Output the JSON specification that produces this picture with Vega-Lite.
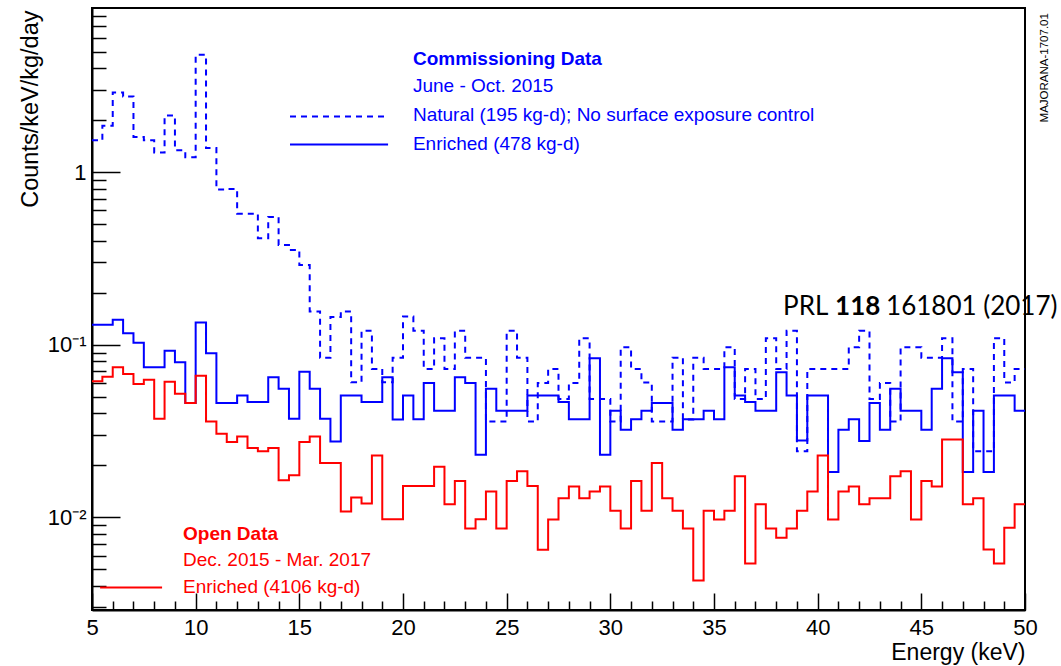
{
  "$schema": "https://vega.github.io/schema/vega-lite/v6.json",
  "width": 933,
  "height": 602,
  "autosize": {"type": "none"},
  "padding": {"left": 92, "top": 8, "right": 36, "bottom": 56},
  "background": "white",
  "config": {"view": {"stroke": "black", "strokeWidth": 2}, "font": "Liberation Sans"},
  "resolve": {"axis": {"x": "independent", "y": "independent"}},
  "datasets": {
    "h": [
      {"e":5,"n":1.53,"c":0.1305,"o":0.0614},
      {"e":5.5,"n":1.86,"c":0.1305,"o":0.0653},
      {"e":6,"n":2.9,"c":0.1396,"o":0.074},
      {"e":6.5,"n":2.75,"c":0.1164,"o":0.0677},
      {"e":7,"n":1.6,"c":0.1027,"o":0.0593},
      {"e":7.5,"n":1.53,"c":0.074,"o":0.0626},
      {"e":8,"n":1.3,"c":0.074,"o":0.0372},
      {"e":8.5,"n":2.13,"c":0.0923,"o":0.061},
      {"e":9,"n":1.34,"c":0.0791,"o":0.0519},
      {"e":9.5,"n":1.22,"c":0.0459,"o":0.0459},
      {"e":10,"n":4.79,"c":0.1347,"o":0.0662},
      {"e":10.5,"n":1.38,"c":0.0892,"o":0.0359},
      {"e":11,"n":0.794,"c":0.046,"o":0.0305},
      {"e":11.5,"n":0.8,"c":0.046,"o":0.0273},
      {"e":12,"n":0.575,"c":0.0507,"o":0.0294},
      {"e":12.5,"n":0.575,"c":0.0465,"o":0.0252},
      {"e":13,"n":0.414,"c":0.0465,"o":0.0241},
      {"e":13.5,"n":0.55,"c":0.0648,"o":0.0252},
      {"e":14,"n":0.379,"c":0.0555,"o":0.0164},
      {"e":14.5,"n":0.354,"c":0.0372,"o":0.0175},
      {"e":15,"n":0.29,"c":0.0698,"o":0.0273},
      {"e":15.5,"n":0.156,"c":0.0555,"o":0.0294},
      {"e":16,"n":0.0841,"c":0.0372,"o":0.0206},
      {"e":16.5,"n":0.145,"c":0.0275,"o":0.0206},
      {"e":17,"n":0.156,"c":0.0507,"o":0.0108},
      {"e":17.5,"n":0.0606,"c":0.0507,"o":0.013},
      {"e":18,"n":0.1205,"c":0.0465,"o":0.012},
      {"e":18.5,"n":0.0724,"c":0.0465,"o":0.0228},
      {"e":19,"n":0.0606,"c":0.0648,"o":0.00973},
      {"e":19.5,"n":0.0841,"c":0.0369,"o":0.00973},
      {"e":20,"n":0.146,"c":0.0507,"o":0.0152},
      {"e":20.5,"n":0.1205,"c":0.037,"o":0.0152},
      {"e":21,"n":0.0724,"c":0.0601,"o":0.0152},
      {"e":21.5,"n":0.109,"c":0.0415,"o":0.0196},
      {"e":22,"n":0.0724,"c":0.0415,"o":0.0119},
      {"e":22.5,"n":0.1205,"c":0.0648,"o":0.0162},
      {"e":23,"n":0.084,"c":0.0601,"o":0.0086},
      {"e":23.5,"n":0.084,"c":0.023,"o":0.00973},
      {"e":24,"n":0.0359,"c":0.0555,"o":0.0141},
      {"e":24.5,"n":0.0359,"c":0.0415,"o":0.0086},
      {"e":25,"n":0.1205,"c":0.0415,"o":0.0162},
      {"e":25.5,"n":0.084,"c":0.0415,"o":0.0185},
      {"e":26,"n":0.0359,"c":0.0507,"o":0.0152},
      {"e":26.5,"n":0.0601,"c":0.0507,"o":0.00648},
      {"e":27,"n":0.0724,"c":0.0507,"o":0.0097},
      {"e":27.5,"n":0.0485,"c":0.0465,"o":0.0129},
      {"e":28,"n":0.06,"c":0.037,"o":0.0151},
      {"e":28.5,"n":0.109,"c":0.037,"o":0.0129},
      {"e":29,"n":0.0485,"c":0.0834,"o":0.0141},
      {"e":29.5,"n":0.0485,"c":0.023,"o":0.0151},
      {"e":30,"n":0.0359,"c":0.0415,"o":0.0109},
      {"e":30.5,"n":0.0966,"c":0.0321,"o":0.0086},
      {"e":31,"n":0.0724,"c":0.037,"o":0.0162},
      {"e":31.5,"n":0.0605,"c":0.0415,"o":0.0109},
      {"e":32,"n":0.0359,"c":0.046,"o":0.0206},
      {"e":32.5,"n":0.0359,"c":0.046,"o":0.0129},
      {"e":33,"n":0.084,"c":0.0321,"o":0.0109},
      {"e":33.5,"n":0.0369,"c":0.037,"o":0.0086},
      {"e":34,"n":0.084,"c":0.037,"o":0.0043},
      {"e":34.5,"n":0.0724,"c":0.0415,"o":0.0109},
      {"e":35,"n":0.0724,"c":0.037,"o":0.0097},
      {"e":35.5,"n":0.0966,"c":0.074,"o":0.0109},
      {"e":36,"n":0.0485,"c":0.0507,"o":0.0173},
      {"e":36.5,"n":0.0724,"c":0.0465,"o":0.0054},
      {"e":37,"n":0.0485,"c":0.0415,"o":0.0119},
      {"e":37.5,"n":0.109,"c":0.0415,"o":0.0086},
      {"e":38,"n":0.0724,"c":0.0692,"o":0.0076},
      {"e":38.5,"n":0.1205,"c":0.0507,"o":0.0086},
      {"e":39,"n":0.0241,"c":0.0279,"o":0.0109},
      {"e":39.5,"n":0.0724,"c":0.0507,"o":0.0141},
      {"e":40,"n":0.0724,"c":0.0507,"o":0.0228},
      {"e":40.5,"n":0.0724,"c":0.0183,"o":0.0097},
      {"e":41,"n":0.0724,"c":0.0321,"o":0.0141},
      {"e":41.5,"n":0.0966,"c":0.037,"o":0.0151},
      {"e":42,"n":0.1205,"c":0.0277,"o":0.0119},
      {"e":42.5,"n":0.0485,"c":0.046,"o":0.0129},
      {"e":43,"n":0.06,"c":0.0321,"o":0.0129},
      {"e":43.5,"n":0.0359,"c":0.0555,"o":0.0173},
      {"e":44,"n":0.0966,"c":0.0415,"o":0.0185},
      {"e":44.5,"n":0.0966,"c":0.0415,"o":0.0097},
      {"e":45,"n":0.084,"c":0.0321,"o":0.0162},
      {"e":45.5,"n":0.084,"c":0.0555,"o":0.0151},
      {"e":46,"n":0.109,"c":0.0834,"o":0.0282},
      {"e":46.5,"n":0.0359,"c":0.0692,"o":0.0282},
      {"e":47,"n":0.0724,"c":0.0183,"o":0.0119},
      {"e":47.5,"n":0.0241,"c":0.0415,"o":0.0129},
      {"e":48,"n":0.0241,"c":0.0183,"o":0.0065},
      {"e":48.5,"n":0.109,"c":0.0507,"o":0.0054},
      {"e":49,"n":0.0605,"c":0.0507,"o":0.0087},
      {"e":49.5,"n":0.0724,"c":0.0415,"o":0.0119},
      {"e":50,"n":0.0724,"c":0.0415,"o":0.0119}
    ],
    "leg": [
      {"k":"n","x":14.55,"y":2.1},{"k":"n","x":19.28,"y":2.1},
      {"k":"c","x":14.55,"y":1.446},{"k":"c","x":19.28,"y":1.446},
      {"k":"o","x":5.39,"y":0.00392},{"k":"o","x":8.38,"y":0.00392}
    ],
    "txt": [
      {"g":"cb","x":20.48,"y":4.19,"t":"Commissioning Data"},
      {"g":"cn","x":20.48,"y":2.9,"t":"June - Oct. 2015"},
      {"g":"cn","x":20.48,"y":1.97,"t":"Natural (195 kg-d); No surface exposure control"},
      {"g":"cn","x":20.48,"y":1.35,"t":"Enriched (478 kg-d)"},
      {"g":"ob","x":9.39,"y":0.00743,"t":"Open Data"},
      {"g":"on","x":9.39,"y":0.00519,"t":"Dec. 2015 - Mar. 2017"},
      {"g":"on","x":9.39,"y":0.00362,"t":"Enriched (4106 kg-d)"},
      {"g":"pn","x":38.33,"y":0.1485,"t":"PRL"},
      {"g":"pb","x":40.84,"y":0.1485,"t":"118"},
      {"g":"pn","x":43.3,"y":0.1485,"t":"161801 (2017)"},
      {"g":"m","x":50.96,"y":4.03,"t":"MAJORANA-1707.01"}
    ]
  },
  "layer": [
    {
      "data": {"name": "h"},
      "mark": {"type": "line", "interpolate": "step-after", "color": "#0000ff", "strokeWidth": 2, "strokeDash": [6, 5]},
      "encoding": {
        "x": {"field": "e", "type": "quantitative", "scale": {"domain": [5, 50], "nice": false, "zero": false},
          "axis": {
            "orient": "bottom",
            "values": [5,10,15,20,25,30,35,40,45,50],
            "tickSize": -17,
            "labelPadding": 24, "labelFontSize": 22, "labelColor": "black", "labelFont": "Liberation Sans",
            "labelFlush": false, "labelOverlap": false,
            "tickColor": "black", "tickWidth": 1.5, "domainColor": "black", "domainWidth": 2, "grid": false,
            "title": "Energy (keV)", "titleFontSize": 23, "titleFontWeight": "normal", "titleColor": "black",
            "titleFont": "Liberation Sans", "titleAnchor": "end", "titleAlign": "right", "titleX": 933, "titleY": 49, "titleBaseline": "alphabetic"
          }},
        "y": {"field": "n", "type": "quantitative", "scale": {"type": "log", "domain": [0.0029, 8.95], "nice": false},
          "axis": {
            "orient": "left",
            "values": [0.01, 0.1, 1],
            "labelExpr": "datum.value === 1 ? '1' : datum.value === 0.1 ? '10⁻¹' : '10⁻²'",
            "tickSize": -28,
            "labelPadding": 34, "labelFontSize": 22, "labelColor": "black", "labelFont": "Liberation Sans",
            "labelFlush": false, "labelOverlap": false, "labelBaseline": "middle",
            "tickColor": "black", "tickWidth": 1.5, "domainColor": "black", "domainWidth": 2, "grid": false,
            "title": "Counts/keV/kg/day", "titleFontSize": 23.5, "titleFontWeight": "normal", "titleColor": "black",
            "titleFont": "Liberation Sans", "titleAngle": 270, "titleAlign": "right", "titleBaseline": "middle", "titleX": -62, "titleY": 2
          }}
      }
    },
    {
      "data": {"name": "h"},
      "mark": {"type": "line", "interpolate": "step-after", "color": "#0000ff", "strokeWidth": 2},
      "encoding": {
        "x": {"field": "e", "type": "quantitative", "scale": {"domain": [5, 50], "nice": false, "zero": false},
          "axis": {
            "orient": "bottom",
            "values": [6,7,8,9,11,12,13,14,16,17,18,19,21,22,23,24,26,27,28,29,31,32,33,34,36,37,38,39,41,42,43,44,46,47,48,49],
            "tickSize": -9, "labels": false, "domain": false, "title": null, "grid": false,
            "tickColor": "black", "tickWidth": 1.5
          }},
        "y": {"field": "c", "type": "quantitative", "scale": {"type": "log", "domain": [0.0029, 8.95], "nice": false},
          "axis": {
            "orient": "left",
            "values": [0.003,0.004,0.005,0.006,0.007,0.008,0.009,0.02,0.03,0.04,0.05,0.06,0.07,0.08,0.09,0.2,0.3,0.4,0.5,0.6,0.7,0.8,0.9,2,3,4,5,6,7,8],
            "tickSize": -14, "labels": false, "domain": false, "title": null, "grid": false,
            "tickColor": "black", "tickWidth": 1.5
          }}
      }
    },
    {
      "data": {"name": "h"},
      "mark": {"type": "line", "interpolate": "step-after", "color": "#ff0000", "strokeWidth": 2},
      "encoding": {
        "x": {"field": "e", "type": "quantitative", "scale": {"domain": [5, 50], "nice": false, "zero": false}, "axis": null},
        "y": {"field": "o", "type": "quantitative", "scale": {"type": "log", "domain": [0.0029, 8.95], "nice": false}, "axis": null}
      }
    },
    {
      "data": {"name": "leg"},
      "transform": [{"filter": "datum.k === 'n'"}],
      "mark": {"type": "line", "color": "#0000ff", "strokeWidth": 2, "strokeDash": [6, 5]},
      "encoding": {
        "x": {"field": "x", "type": "quantitative", "axis": null},
        "y": {"field": "y", "type": "quantitative", "axis": null}
      }
    },
    {
      "data": {"name": "leg"},
      "transform": [{"filter": "datum.k === 'c'"}],
      "mark": {"type": "line", "color": "#0000ff", "strokeWidth": 2},
      "encoding": {
        "x": {"field": "x", "type": "quantitative", "axis": null},
        "y": {"field": "y", "type": "quantitative", "axis": null}
      }
    },
    {
      "data": {"name": "leg"},
      "transform": [{"filter": "datum.k === 'o'"}],
      "mark": {"type": "line", "color": "#ff0000", "strokeWidth": 2},
      "encoding": {
        "x": {"field": "x", "type": "quantitative", "axis": null},
        "y": {"field": "y", "type": "quantitative", "axis": null}
      }
    },
    {
      "data": {"name": "txt"},
      "transform": [{"filter": "datum.g === 'cb'"}],
      "mark": {"type": "text", "align": "left", "baseline": "alphabetic", "color": "#0000ff", "fontSize": 19, "fontWeight": "bold", "font": "Liberation Sans"},
      "encoding": {
        "x": {"field": "x", "type": "quantitative", "axis": null},
        "y": {"field": "y", "type": "quantitative", "axis": null},
        "text": {"field": "t"}
      }
    },
    {
      "data": {"name": "txt"},
      "transform": [{"filter": "datum.g === 'cn'"}],
      "mark": {"type": "text", "align": "left", "baseline": "alphabetic", "color": "#0000ff", "fontSize": 19, "font": "Liberation Sans"},
      "encoding": {
        "x": {"field": "x", "type": "quantitative", "axis": null},
        "y": {"field": "y", "type": "quantitative", "axis": null},
        "text": {"field": "t"}
      }
    },
    {
      "data": {"name": "txt"},
      "transform": [{"filter": "datum.g === 'ob'"}],
      "mark": {"type": "text", "align": "left", "baseline": "alphabetic", "color": "#ff0000", "fontSize": 19, "fontWeight": "bold", "font": "Liberation Sans"},
      "encoding": {
        "x": {"field": "x", "type": "quantitative", "axis": null},
        "y": {"field": "y", "type": "quantitative", "axis": null},
        "text": {"field": "t"}
      }
    },
    {
      "data": {"name": "txt"},
      "transform": [{"filter": "datum.g === 'on'"}],
      "mark": {"type": "text", "align": "left", "baseline": "alphabetic", "color": "#ff0000", "fontSize": 19, "font": "Liberation Sans"},
      "encoding": {
        "x": {"field": "x", "type": "quantitative", "axis": null},
        "y": {"field": "y", "type": "quantitative", "axis": null},
        "text": {"field": "t"}
      }
    },
    {
      "data": {"name": "txt"},
      "transform": [{"filter": "datum.g === 'pn'"}],
      "mark": {"type": "text", "align": "left", "baseline": "alphabetic", "color": "black", "fontSize": 26, "font": "Lato"},
      "encoding": {
        "x": {"field": "x", "type": "quantitative", "axis": null},
        "y": {"field": "y", "type": "quantitative", "axis": null},
        "text": {"field": "t"}
      }
    },
    {
      "data": {"name": "txt"},
      "transform": [{"filter": "datum.g === 'pb'"}],
      "mark": {"type": "text", "align": "left", "baseline": "alphabetic", "color": "black", "fontSize": 26, "fontWeight": "bold", "font": "Lato"},
      "encoding": {
        "x": {"field": "x", "type": "quantitative", "axis": null},
        "y": {"field": "y", "type": "quantitative", "axis": null},
        "text": {"field": "t"}
      }
    },
    {
      "data": {"name": "txt"},
      "transform": [{"filter": "datum.g === 'm'"}],
      "mark": {"type": "text", "align": "center", "baseline": "middle", "angle": 270, "color": "black", "fontSize": 11.5, "font": "Liberation Sans"},
      "encoding": {
        "x": {"field": "x", "type": "quantitative", "axis": null},
        "y": {"field": "y", "type": "quantitative", "axis": null},
        "text": {"field": "t"}
      }
    }
  ]
}
